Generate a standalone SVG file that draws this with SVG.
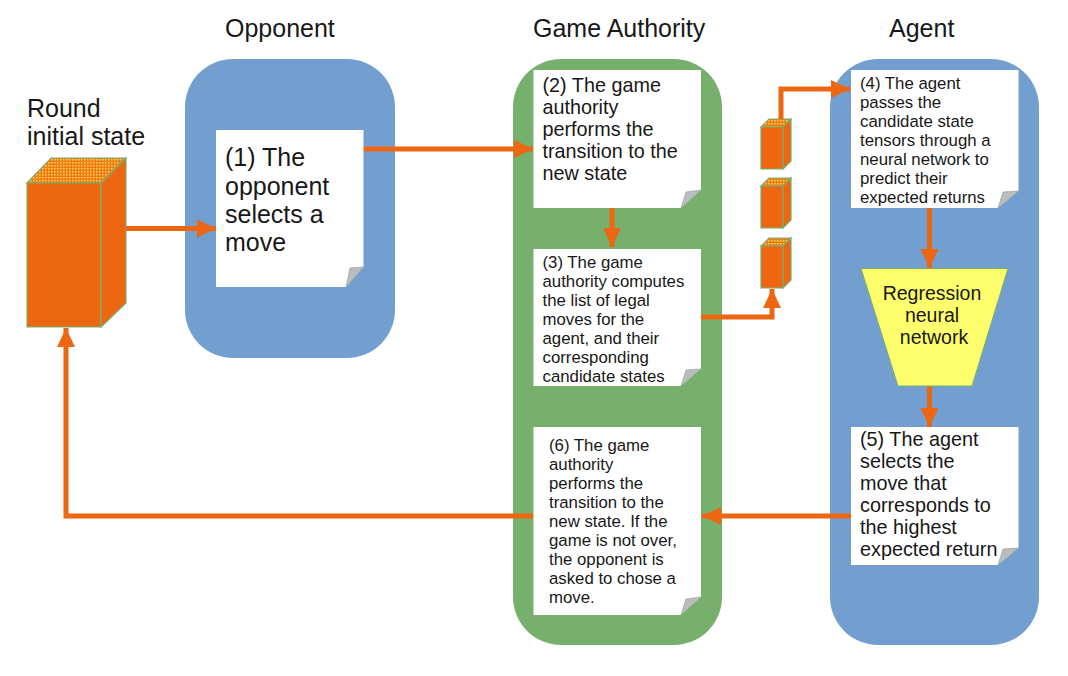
<svg xmlns="http://www.w3.org/2000/svg" width="1068" height="676" viewBox="0 0 1068 676">
<style>
text{font-family:"Liberation Sans",Arial,sans-serif;fill:#181818}
.title{font-size:25px}
.l{font-size:25px}
.m{font-size:19.800px}
.s{font-size:16.800px}
.nn{font-size:19.500px;text-anchor:middle}
.blue{fill:#729fcf}
.green{fill:#77b06c}
.note{fill:#fff}
.fold{fill:#b9bdbd;stroke:#8a9a8a;stroke-width:.6}
.front{fill:#ed6611;stroke:#77b06c;stroke-width:1.200}
.top{fill:url(#dither);stroke:#77b06c;stroke-width:1.200}
.conn{fill:none;stroke:#ed6611;stroke-width:5}
</style>
<defs>
<marker id="arrow" markerUnits="userSpaceOnUse" markerWidth="20" markerHeight="20" refX="19" refY="9.500" orient="auto">
<path d="M0,0.500 L19,9.500 L0,18.500 Z" fill="#ed6611"/>
</marker>
<pattern id="dither" patternUnits="userSpaceOnUse" width="3" height="3">
<rect width="3" height="3" fill="#f07a15"/>
<rect width="1.500" height="1.500" fill="#ffd850"/>
</pattern>
</defs>
<text class="title" x="225" y="37">Opponent</text>
<text class="title" x="533" y="37">Game Authority</text>
<text class="title" x="889" y="37">Agent</text>
<g id="panel-opponent"><rect class="blue" x="185" y="59" width="210" height="299" rx="48"/></g>
<g id="panel-authority"><rect class="green" x="513" y="59" width="209" height="586" rx="48"/></g>
<g id="panel-agent"><rect class="blue" x="830" y="59" width="209" height="586" rx="48"/></g>
<g id="round-state">
<text class="title" x="27" y="117">Round</text>
<text class="title" x="27" y="145">initial state</text>
<path class="top" d="M27,183 L51,158 H126 L101,183 Z"/>
<path class="front" d="M27,183 H101 V327 H27 Z"/>
<path class="front" d="M101,183 L126,158 V303 L101,327 Z"/>
</g>
<g id="tensor-1">
<path class="top" d="M761,127 L769,119 H791 L783,127 Z"/>
<path class="front" d="M761,127 H783 V169 H761 Z"/>
<path class="front" d="M783,127 L791,119 V161 L783,169 Z"/>
</g>
<g id="tensor-2">
<path class="top" d="M761,186 L769,178 H791 L783,186 Z"/>
<path class="front" d="M761,186 H783 V228 H761 Z"/>
<path class="front" d="M783,186 L791,178 V220 L783,228 Z"/>
</g>
<g id="tensor-3">
<path class="top" d="M761,246 L769,238 H791 L783,246 Z"/>
<path class="front" d="M761,246 H783 V288 H761 Z"/>
<path class="front" d="M783,246 L791,238 V280 L783,288 Z"/>
</g>
<g id="connectors">
<path class="conn" marker-end="url(#arrow)" d="M126,228.500 H216"/>
<path class="conn" marker-end="url(#arrow)" d="M363,149 H533"/>
<path class="conn" marker-end="url(#arrow)" d="M612,208 V247"/>
<path class="conn" marker-end="url(#arrow)" d="M701,317 H772 V289"/>
<path class="conn" marker-end="url(#arrow)" d="M781,119 V89 H850"/>
<path class="conn" marker-end="url(#arrow)" d="M929.500,208 V268"/>
<path class="conn" marker-end="url(#arrow)" d="M929.500,386 V427"/>
<path class="conn" marker-end="url(#arrow)" d="M851,516 H702"/>
<path class="conn" marker-end="url(#arrow)" d="M533,516 H66 V328"/>
</g>
<g id="note-1">
<path class="note" d="M216,130 H363.500 V267 L346,287 H216 Z"/>
<path class="fold" d="M363.500,267 L350,268 L346,287 Z"/>
<text class="l" x="225" y="166">(1) The</text>
<text class="l" x="225" y="195">opponent</text>
<text class="l" x="225" y="223">selects a</text>
<text class="l" x="225" y="251">move</text>
</g>
<g id="note-2">
<path class="note" d="M533.500,70 H701 V190 L681,208 H533.500 Z"/>
<path class="fold" d="M701,190 L686,192 L681,208 Z"/>
<text class="m" x="542.500" y="92">(2) The game</text>
<text class="m" x="542.500" y="114">authority</text>
<text class="m" x="542.500" y="136">performs the</text>
<text class="m" x="542.500" y="158">transition to the</text>
<text class="m" x="542.500" y="180">new state</text>
</g>
<g id="note-3">
<path class="note" d="M533.500,249 H701 V369 L681,386 H533.500 Z"/>
<path class="fold" d="M701,369 L686,370 L681,386 Z"/>
<text class="s" x="542.500" y="268">(3) The game</text>
<text class="s" x="542.500" y="287">authority computes</text>
<text class="s" x="542.500" y="306">the list of legal</text>
<text class="s" x="542.500" y="325">moves for the</text>
<text class="s" x="542.500" y="344">agent, and their</text>
<text class="s" x="542.500" y="363">corresponding</text>
<text class="s" x="542.500" y="382">candidate states</text>
</g>
<g id="note-6">
<path class="note" d="M533.500,427 H701 V597 L681,615 H533.500 Z"/>
<path class="fold" d="M701,597 L686,599 L681,615 Z"/>
<text class="s" x="549" y="451">(6) The game</text>
<text class="s" x="549" y="470">authority</text>
<text class="s" x="549" y="489">performs the</text>
<text class="s" x="549" y="508">transition to the</text>
<text class="s" x="549" y="527">new state. If the</text>
<text class="s" x="549" y="546">game is not over,</text>
<text class="s" x="549" y="565">the opponent is</text>
<text class="s" x="549" y="584">asked to chose a</text>
<text class="s" x="549" y="603">move.</text>
</g>
<g id="note-4">
<path class="note" d="M851,70 H1018.500 V191 L998,208 H851 Z"/>
<path class="fold" d="M1018.500,191 L1003,192 L998,208 Z"/>
<text class="s" x="860" y="89">(4) The agent</text>
<text class="s" x="860" y="108">passes the</text>
<text class="s" x="860" y="127">candidate state</text>
<text class="s" x="860" y="146">tensors through a</text>
<text class="s" x="860" y="165">neural network to</text>
<text class="s" x="860" y="184">predict their</text>
<text class="s" x="860" y="203">expected returns</text>
</g>
<g id="neural-network">
<path fill="#ffff6d" stroke="#77b06c" stroke-width="1" d="M861,268.500 H1008 L972,386 H898 Z"/>
<text class="nn" x="932" y="300">Regression</text>
<text class="nn" x="932" y="322">neural</text>
<text class="nn" x="934" y="344">network</text>
</g>
<g id="note-5">
<path class="note" d="M851,427 H1018.500 V548 L998,565 H851 Z"/>
<path class="fold" d="M1018.500,548 L1003,549 L998,565 Z"/>
<text class="m" x="860" y="446">(5) The agent</text>
<text class="m" x="860" y="468">selects the</text>
<text class="m" x="860" y="490">move that</text>
<text class="m" x="860" y="512">corresponds to</text>
<text class="m" x="860" y="534">the highest</text>
<text class="m" x="860" y="556">expected return</text>
</g>
</svg>
